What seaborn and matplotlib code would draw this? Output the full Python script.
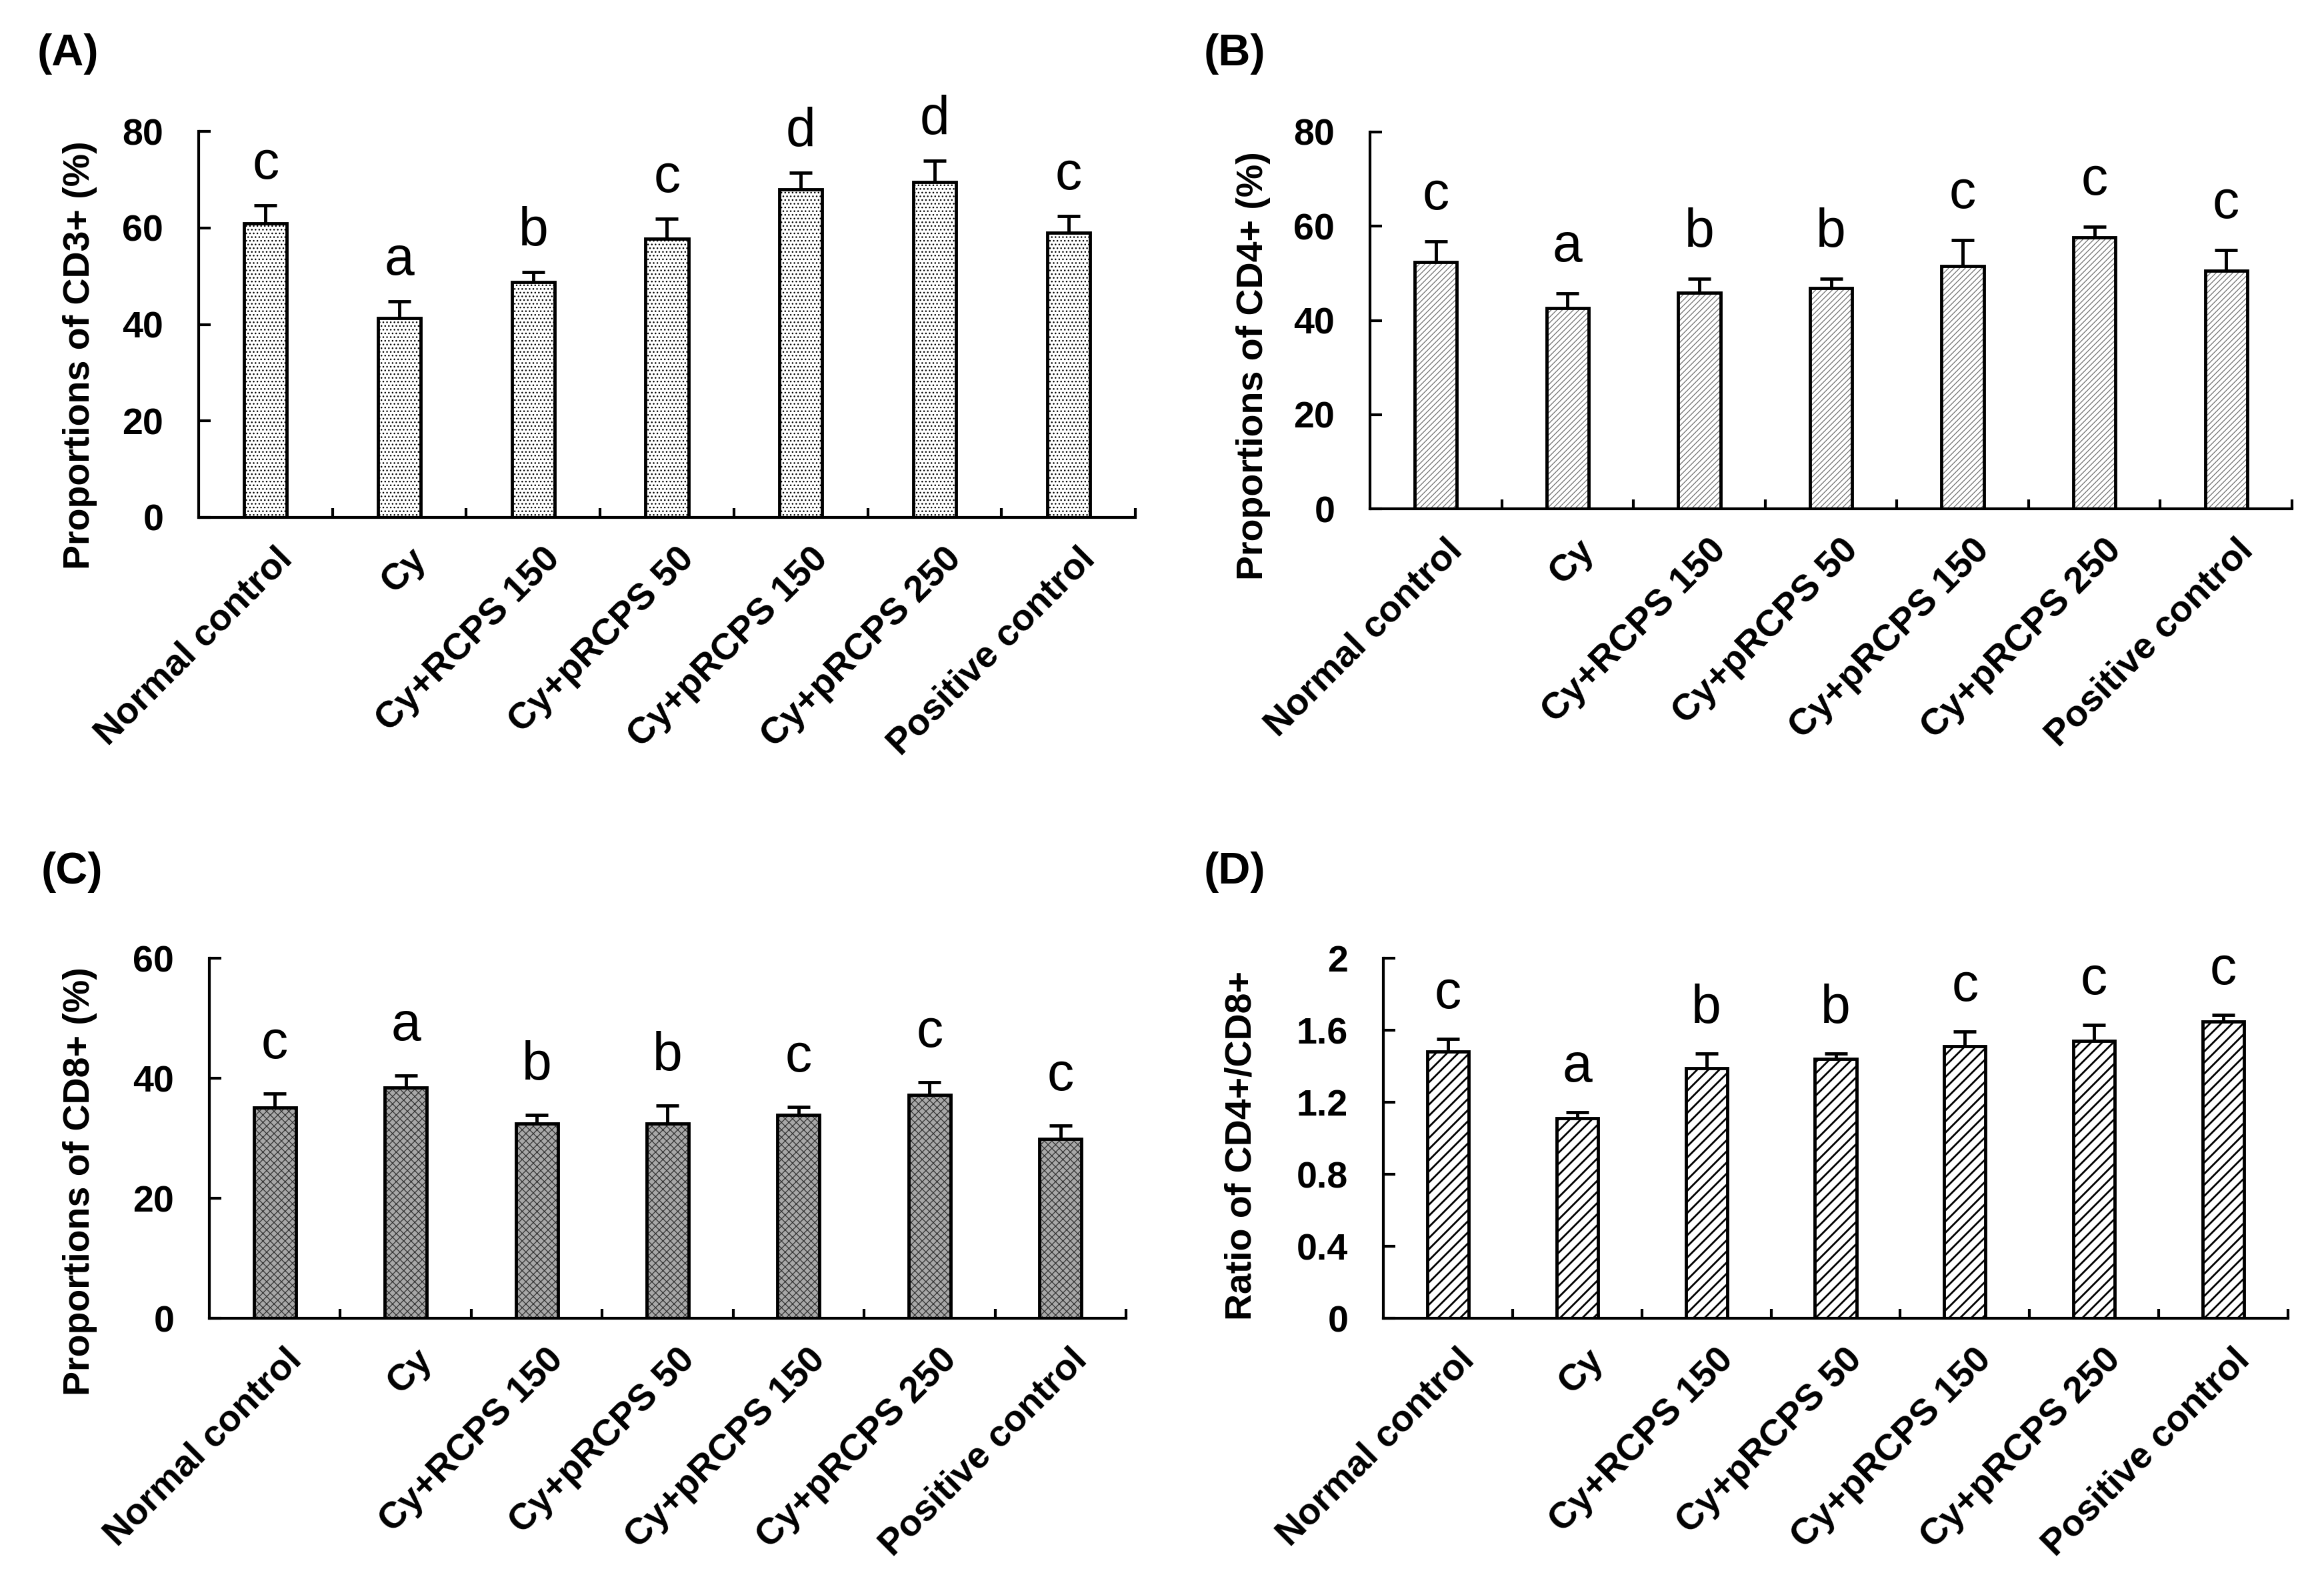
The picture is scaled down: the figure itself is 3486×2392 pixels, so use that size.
import numpy as np
import pandas as pd
import seaborn as sns
import matplotlib
matplotlib.use('Agg')
import matplotlib.pyplot as plt


#%% Data (mean and upper SEM per group)

groups = ['Normal control', 'Cy', 'Cy+RCPS 150', 'Cy+pRCPS 50',
          'Cy+pRCPS 150', 'Cy+pRCPS 250', 'Positive control']

cd3_mean = [61.0, 41.3, 48.8, 57.8, 68.0, 69.5, 59.0]
cd3_sem = [3.6, 3.4, 2.1, 4.1, 3.5, 4.4, 3.5]
cd3_letters = ['c', 'a', 'b', 'c', 'd', 'd', 'c']

cd4_mean = [52.4, 42.6, 45.9, 46.8, 51.6, 57.6, 50.6]
cd4_sem = [4.4, 3.1, 2.9, 2.1, 5.4, 2.3, 4.3]
cd4_letters = ['c', 'a', 'b', 'b', 'c', 'c', 'c']

cd8_mean = [35.1, 38.4, 32.5, 32.5, 33.9, 37.2, 29.9]
cd8_sem = [2.3, 2.1, 1.4, 3.0, 1.3, 2.1, 2.2]
cd8_letters = ['c', 'a', 'b', 'b', 'c', 'c', 'c']

ratio_mean = [1.48, 1.11, 1.39, 1.44, 1.51, 1.54, 1.65]
ratio_sem = [0.073, 0.035, 0.082, 0.032, 0.084, 0.09, 0.035]
ratio_letters = ['c', 'a', 'b', 'b', 'c', 'c', 'c']


#%% Style

sns.set_theme(style='ticks', rc={'axes.edgecolor': 'black', 'xtick.color': 'black',
                                 'ytick.color': 'black', 'text.color': 'black',
                                 'axes.labelcolor': 'black'})
plt.rcParams['font.family'] = ['Liberation Sans', 'DejaVu Sans']
plt.rcParams['hatch.linewidth'] = 1.2

W, H = 3487, 2392
fig = plt.figure(figsize=(W / 100, H / 100), dpi=100)

# tag, data, y label, y max, y step, hatch, face, hatch colour, hatch lw,
# axes box in px (left, right, top, bottom), ylabel right edge px, ylabel y, letter offset px, tag pos px
panels = [
    ('(A)', cd3_mean, cd3_sem, cd3_letters, 'Proportions of CD3+ (%)', 80, 20,
     '...', 'white', 'black', 1.0, (298, 1703, 197, 776), 146, 0.42, 40, (56, 81)),
    ('(B)', cd4_mean, cd4_sem, cd4_letters, 'Proportions of CD4+ (%)', 80, 20,
     '////', 'white', '#707070', 0.9, (2055, 3438, 198, 763), 1906, 0.38, 48, (1806, 81)),
    ('(C)', cd8_mean, cd8_sem, cd8_letters, 'Proportions of CD8+ (%)', 60, 20,
     'xxx', '#a8a8a8', '#333333', 0.9, (314, 1689, 1437, 1977), 146, 0.38, 53, (62, 1308)),
    ('(D)', ratio_mean, ratio_sem, ratio_letters, 'Ratio of CD4+/CD8+', 2, 0.4,
     '//', 'white', 'black', 2.0, (2075, 3432, 1437, 1977), 1889, 0.48, 46, (1806, 1308)),
]

for (tag, mean, sem, letters, ylabel, ymax, step, hatch, face, hcol, hlw,
     box, lab_px, lab_y, let_off, tag_xy) in panels:
    L, R, T, B = box
    ax = fig.add_axes([L / W, 1 - B / H, (R - L) / W, (B - T) / H])
    df = pd.DataFrame({'group': groups, 'value': mean, 'sem': sem})

    # error bars behind the bars, so only the upper half shows
    ax.errorbar(np.arange(len(groups)), df['value'], yerr=df['sem'], fmt='none',
                ecolor='black', elinewidth=3.5, capsize=12, capthick=3.5, zorder=1)

    # hatched fill
    n0 = len(ax.patches)
    sns.barplot(data=df, x='group', y='value', order=groups, color=face, saturation=1,
                edgecolor=hcol, linewidth=0, width=0.32, errorbar=None, ax=ax, zorder=2)
    for p in ax.patches[n0:]:
        p.set_hatch(hatch)
        if hasattr(p, 'set_hatch_linewidth'):
            p.set_hatch_linewidth(hlw)
    # black outline
    n0 = len(ax.patches)
    sns.barplot(data=df, x='group', y='value', order=groups, color='black', saturation=1,
                width=0.32, errorbar=None, ax=ax, zorder=3)
    for p in ax.patches[n0:]:
        p.set_facecolor('none')
        p.set_edgecolor('black')
        p.set_linewidth(3.5)

    # significance letters
    for i, (m, s, l) in enumerate(zip(mean, sem, letters)):
        ax.annotate(l, xy=(i, m + s), xytext=(0, let_off * 0.72), textcoords='offset points',
                    ha='center', va='baseline', fontsize=58)

    ax.set_xlim(-0.5, len(groups) - 0.5)
    ax.set_ylim(0, ymax)
    yt = np.arange(0, ymax + step / 2, step)
    ax.set_yticks(yt, labels=[f'{v:g}' for v in yt], fontsize=40, fontweight='bold')
    ax.set_xticks(np.arange(len(groups)) + 0.07, labels=groups, rotation=45, ha='right',
                  va='top', rotation_mode='anchor', fontsize=40, fontweight='bold')
    ax.set_xticks(np.arange(len(groups)) + 0.5, minor=True)
    ax.tick_params(axis='x', which='major', length=0, pad=26)
    ax.tick_params(axis='x', which='minor', direction='in', length=10, width=3)
    ax.tick_params(axis='y', direction='in', length=13, width=3, pad=38)

    ax.set_xlabel('')
    ax.set_ylabel(ylabel, fontsize=40, fontweight='bold')
    ax.yaxis.set_label_coords((lab_px - L) / (R - L), lab_y)

    sns.despine(ax=ax)
    for side in ['left', 'bottom']:
        ax.spines[side].set_linewidth(3)

    fig.text(tag_xy[0] / W, 1 - tag_xy[1] / H, tag, ha='left', va='center',
             fontsize=48, fontweight='bold')

fig.savefig('out.png', dpi=100)
